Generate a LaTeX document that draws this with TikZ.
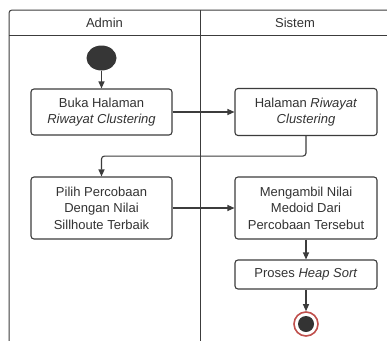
\documentclass[tikz,border=0pt]{standalone}
\usepackage{fontspec}
\setmainfont{Liberation Sans}
\usetikzlibrary{arrows.meta,shapes.geometric}
\definecolor{ln}{HTML}{3C3C3C}
\definecolor{tx}{HTML}{333333}
\definecolor{ringc}{HTML}{C0504D}
\begin{document}
\begin{tikzpicture}[x=1pt,y=-1pt,
  frame/.style={draw=ln, line width=1pt},
  act/.style={draw=ln, line width=1.1pt, rounded corners=3pt, fill=white, text=tx, align=center,
    font=\fontsize{13}{16.5}\selectfont, inner sep=0pt},
  hdr/.style={text=tx, font=\fontsize{13}{16}\selectfont, inner sep=0pt},
  arr/.style={draw=ln, line width=1.1pt, -{Triangle[length=7pt,width=6pt]}}]
\useasboundingbox (0,0) rectangle (387,340);
\fill[white] (0,0) rectangle (387,340);
\begin{scope}
  \clip (0,0) rectangle (387,340);
  \draw[frame, rounded corners=3pt] (9,350) -- (9,10) -- (400,10);
  \draw[frame] (9,35) -- (400,35);
  \draw[frame] (200,10) -- (200,350);
\end{scope}
\node[hdr] (hA) at (104.5,22.5) {Admin};
\node[hdr] (hS) at (295,22.5) {Sistem};

\node[ellipse, fill=ln!90!black, minimum width=30pt, minimum height=25pt, inner sep=0pt] (start) at (101.5,58) {};
\node[act, minimum width=141pt, minimum height=46pt] (b1) at (101.5,112) {Buka Halaman\\\textit{Riwayat Clustering}};
\node[act, minimum width=142pt, minimum height=47pt] (b2) at (306,112) {Halaman \textit{Riwayat}\\\textit{Clustering}};
\node[act, minimum width=141pt, minimum height=62pt] (b3) at (101.5,208) {Pilih Percobaan\\Dengan Nilai\\Sillhoute Terbaik};
\node[act, minimum width=142pt, minimum height=62pt] (b4) at (306,208) {Mengambil Nilai\\Medoid Dari\\Percobaan Tersebut};
\node[act, minimum width=142pt, minimum height=29pt] (b5) at (306,274.5) {Proses \textit{Heap Sort}};
\node[circle, draw=ringc, line width=1.6pt, fill=white, minimum size=24pt, inner sep=0pt] (end) at (306,324) {};
\node[circle, fill=ln!85!black, minimum size=16pt, inner sep=0pt] (endin) at (end) {};

\draw[arr] (start) -- (b1);
\draw[arr] (b1) -- (b2);
\draw[arr, rounded corners=3pt] (b2.south) -- ++(0,20) -| (b3.north);
\draw[arr] (b3) -- (b4);
\draw[arr] (b4) -- (b5);
\draw[arr] (b5) -- (end);
\end{tikzpicture}
\end{document}
